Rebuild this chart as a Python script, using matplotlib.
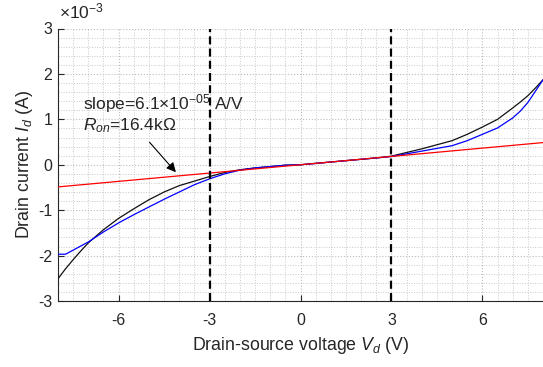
import matplotlib
matplotlib.use("Agg")
import matplotlib.pyplot as plt
from matplotlib.ticker import MultipleLocator

plt.rcParams['font.family'] = ['Liberation Sans', 'DejaVu Sans']
plt.rcParams['mathtext.fontset'] = 'custom'
plt.rcParams['mathtext.rm'] = 'Liberation Sans'
plt.rcParams['mathtext.it'] = 'Liberation Sans:italic'
plt.rcParams['axes.unicode_minus'] = False

# data (current in units of 1e-3 A)
V = [-8, -7.75, -7.5, -7.25, -7, -6.5, -6, -5.5, -5, -4.5, -4, -3.5, -3, -2.5, -2, -1.5, -1, -0.5,
     0, 0.5, 1, 1.5, 2, 2.5, 3, 3.5, 4, 4.5, 5, 5.5, 6, 6.5, 7, 7.25, 7.5, 7.75, 8]
I_black = [-2.51, -2.29, -2.09, -1.90, -1.72, -1.43, -1.18, -0.97, -0.77, -0.60, -0.46, -0.36, -0.26,
           -0.17, -0.11, -0.07, -0.04, -0.01, 0.0, 0.03, 0.06, 0.09, 0.12, 0.15, 0.19, 0.27, 0.35,
           0.44, 0.53, 0.67, 0.83, 1.00, 1.25, 1.38, 1.52, 1.69, 1.87]
I_blue = [-1.97, -1.97, -1.88, -1.79, -1.70, -1.48, -1.28, -1.10, -0.93, -0.76, -0.60, -0.44, -0.31,
          -0.20, -0.12, -0.07, -0.04, -0.01, 0.0, 0.03, 0.06, 0.09, 0.12, 0.15, 0.18, 0.24, 0.30,
          0.36, 0.42, 0.53, 0.67, 0.81, 1.03, 1.18, 1.37, 1.62, 1.87]
slope = 6.1e-5          # A/V
fit_V = [-8, 8]
vlines_at = [-3, 3]
xticks = [-6, -3, 0, 3, 6]
yticks = [-3, -2, -1, 0, 1, 2, 3]

fig = plt.figure(figsize=(5.43, 3.67), dpi=100)
ax = fig.add_axes([58/543, 1 - 301/367, (543 - 58)/543, (301 - 28.5)/367])

ax.plot(V, I_black, color='#111111', lw=0.9, zorder=3)
ax.plot(V, I_blue, color='#0000ff', lw=0.9, zorder=3)
ax.plot(fit_V, [slope * 1e3 * v for v in fit_V], color='#ff0000', lw=0.9, zorder=4)
for xv in vlines_at:
    ax.axvline(xv, color='black', lw=1.6, ls=(0, (3.6, 1.9)), zorder=5)

ax.set_xlim(-8, 8)
ax.set_ylim(-3, 3)
ax.set_xticks(xticks)
ax.set_yticks(yticks)
ax.xaxis.set_minor_locator(MultipleLocator(0.5))
ax.yaxis.set_minor_locator(MultipleLocator(0.2))
ax.grid(which='major', color='#bdbdbd', ls=':', lw=0.8)
ax.grid(which='minor', color='#c8c8c8', ls=':', lw=0.7)
ax.tick_params(which='major', direction='in', length=4, labelsize=11.5, colors='#262626')
ax.tick_params(axis='x', pad=8.5)
ax.tick_params(axis='y', pad=4)
ax.tick_params(which='minor', length=0)
for s in ['top', 'right']:
    ax.spines[s].set_visible(False)
for s in ['left', 'bottom']:
    ax.spines[s].set_color('#262626')
    ax.spines[s].set_linewidth(0.8)

ax.set_xlabel('Drain-source voltage $\\mathit{V_d}$ (V)', fontsize=12.8, color='#262626', labelpad=5)
ax.set_ylabel('Drain current $\\mathit{I_d}$ (A)', fontsize=12.8, color='#262626', labelpad=2)
ax.text(0.003, 1.025, '$\\times$10$^{-3}$', transform=ax.transAxes, fontsize=12.5, color='#262626',
        ha='left', va='bottom')

ax.text(-7.19, 1.22, 'slope=6.1$\\times$10$^{-05}$ A/V', fontsize=12.5, color='#262626', va='baseline')
ax.text(-7.17, 0.76, '$\\mathit{R_{on}}$=16.4k\u03a9', fontsize=12.5, color='#262626', va='baseline')
ax.annotate('', xy=(-4.05, -0.21), xytext=(-5.04, 0.54),
            arrowprops=dict(arrowstyle='-|>', color='black', lw=0.8, mutation_scale=14), zorder=6)

fig.savefig('out.png', dpi=100)
